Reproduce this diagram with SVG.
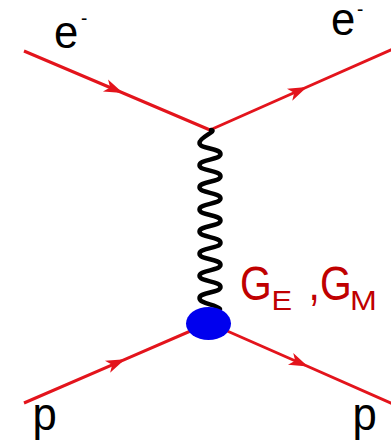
<svg xmlns="http://www.w3.org/2000/svg" width="391" height="440" viewBox="0 0 391 440">
<style>
.fermion{fill:none;stroke:#e3141c;stroke-width:3;marker-mid:url(#arr)}
.photon{fill:none;stroke:#000;stroke-width:4.5;stroke-linecap:round;stroke-linejoin:round}
.lbl{font-family:"Liberation Sans",Arial,sans-serif;fill:#000}
.ff{font-family:"Liberation Sans",Arial,sans-serif;fill:#c00000}
</style>
<defs>
<marker id="arr" markerUnits="userSpaceOnUse" markerWidth="30" markerHeight="20" viewBox="-22 -10 30 20" refX="0" refY="0" orient="auto" overflow="visible">
<path d="M0,0 L-19,-6.5 L-14,0 L-19,6.5 Z" fill="#e3141c"/>
</marker>
</defs>
<rect width="391" height="440" fill="#fff"/>
<g id="connectors">
<path id="e-in" class="fermion" d="M24,51 L123,93 L210,130"/>
<path id="e-out" class="fermion" d="M210,130 L307,87 L393,49"/>
<path id="p-in" class="fermion" d="M24,403 L125,359.3 L209,323"/>
<path id="p-out" class="fermion" d="M209,323 L308,366.5 L393,404"/>
<path id="photon" class="photon" d="M211,130 C218,131 199.5,137 199.5,143 C199.5,149 220.5,148.07 220.5,154.07 C220.5,160.07 199.5,159.14 199.5,165.14 C199.5,171.14 220.5,170.21 220.5,176.21 C220.5,182.21 199.5,181.29 199.5,187.29 C199.5,193.29 220.5,192.36 220.5,198.36 C220.5,204.36 199.5,203.43 199.5,209.43 C199.5,215.43 220.5,214.5 220.5,220.5 C220.5,226.5 199.5,225.57 199.5,231.57 C199.5,237.57 220.5,236.64 220.5,242.64 C220.5,248.64 199.5,247.71 199.5,253.71 C199.5,259.71 220.5,258.79 220.5,264.79 C220.5,270.79 199.5,269.86 199.5,275.86 C199.5,281.86 220.5,280.93 220.5,286.93 C220.5,292.93 199.5,292 199.5,298 C199.5,304 216,304 220,309"/>
</g>
<g id="vertex-blob">
<ellipse cx="208.5" cy="323.5" rx="22.5" ry="16.5" fill="#0000ee"/>
</g>
<g id="label-e-in">
<text class="lbl" font-size="46" transform="translate(54,47.5) scale(0.95,1)">e<tspan x="28.4" y="-22.5" font-size="20">-</tspan></text>
</g>
<g id="label-e-out">
<text class="lbl" font-size="46" transform="translate(331,34.5) scale(0.95,1)">e<tspan x="27.4" y="-18.5" font-size="20">-</tspan></text>
</g>
<g id="label-p-in">
<text class="lbl" font-size="46" transform="translate(32.5,430) scale(0.95,1)">p</text>
</g>
<g id="label-p-out">
<text class="lbl" font-size="46" transform="translate(352.5,430) scale(0.95,1)">p</text>
</g>
<g id="label-formfactors">
<text class="ff" font-size="48" transform="translate(240,300) scale(0.85,1)">G</text>
<text class="ff" font-size="28" transform="translate(271.5,310) scale(1.1,1)">E</text>
<text class="ff" font-size="48" transform="translate(308.4,300) scale(0.85,1)">,</text>
<text class="ff" font-size="48" transform="translate(320,300) scale(0.85,1)">G</text>
<text class="ff" font-size="28" transform="translate(350,310) scale(1.15,1)">M</text>
</g>
</svg>
